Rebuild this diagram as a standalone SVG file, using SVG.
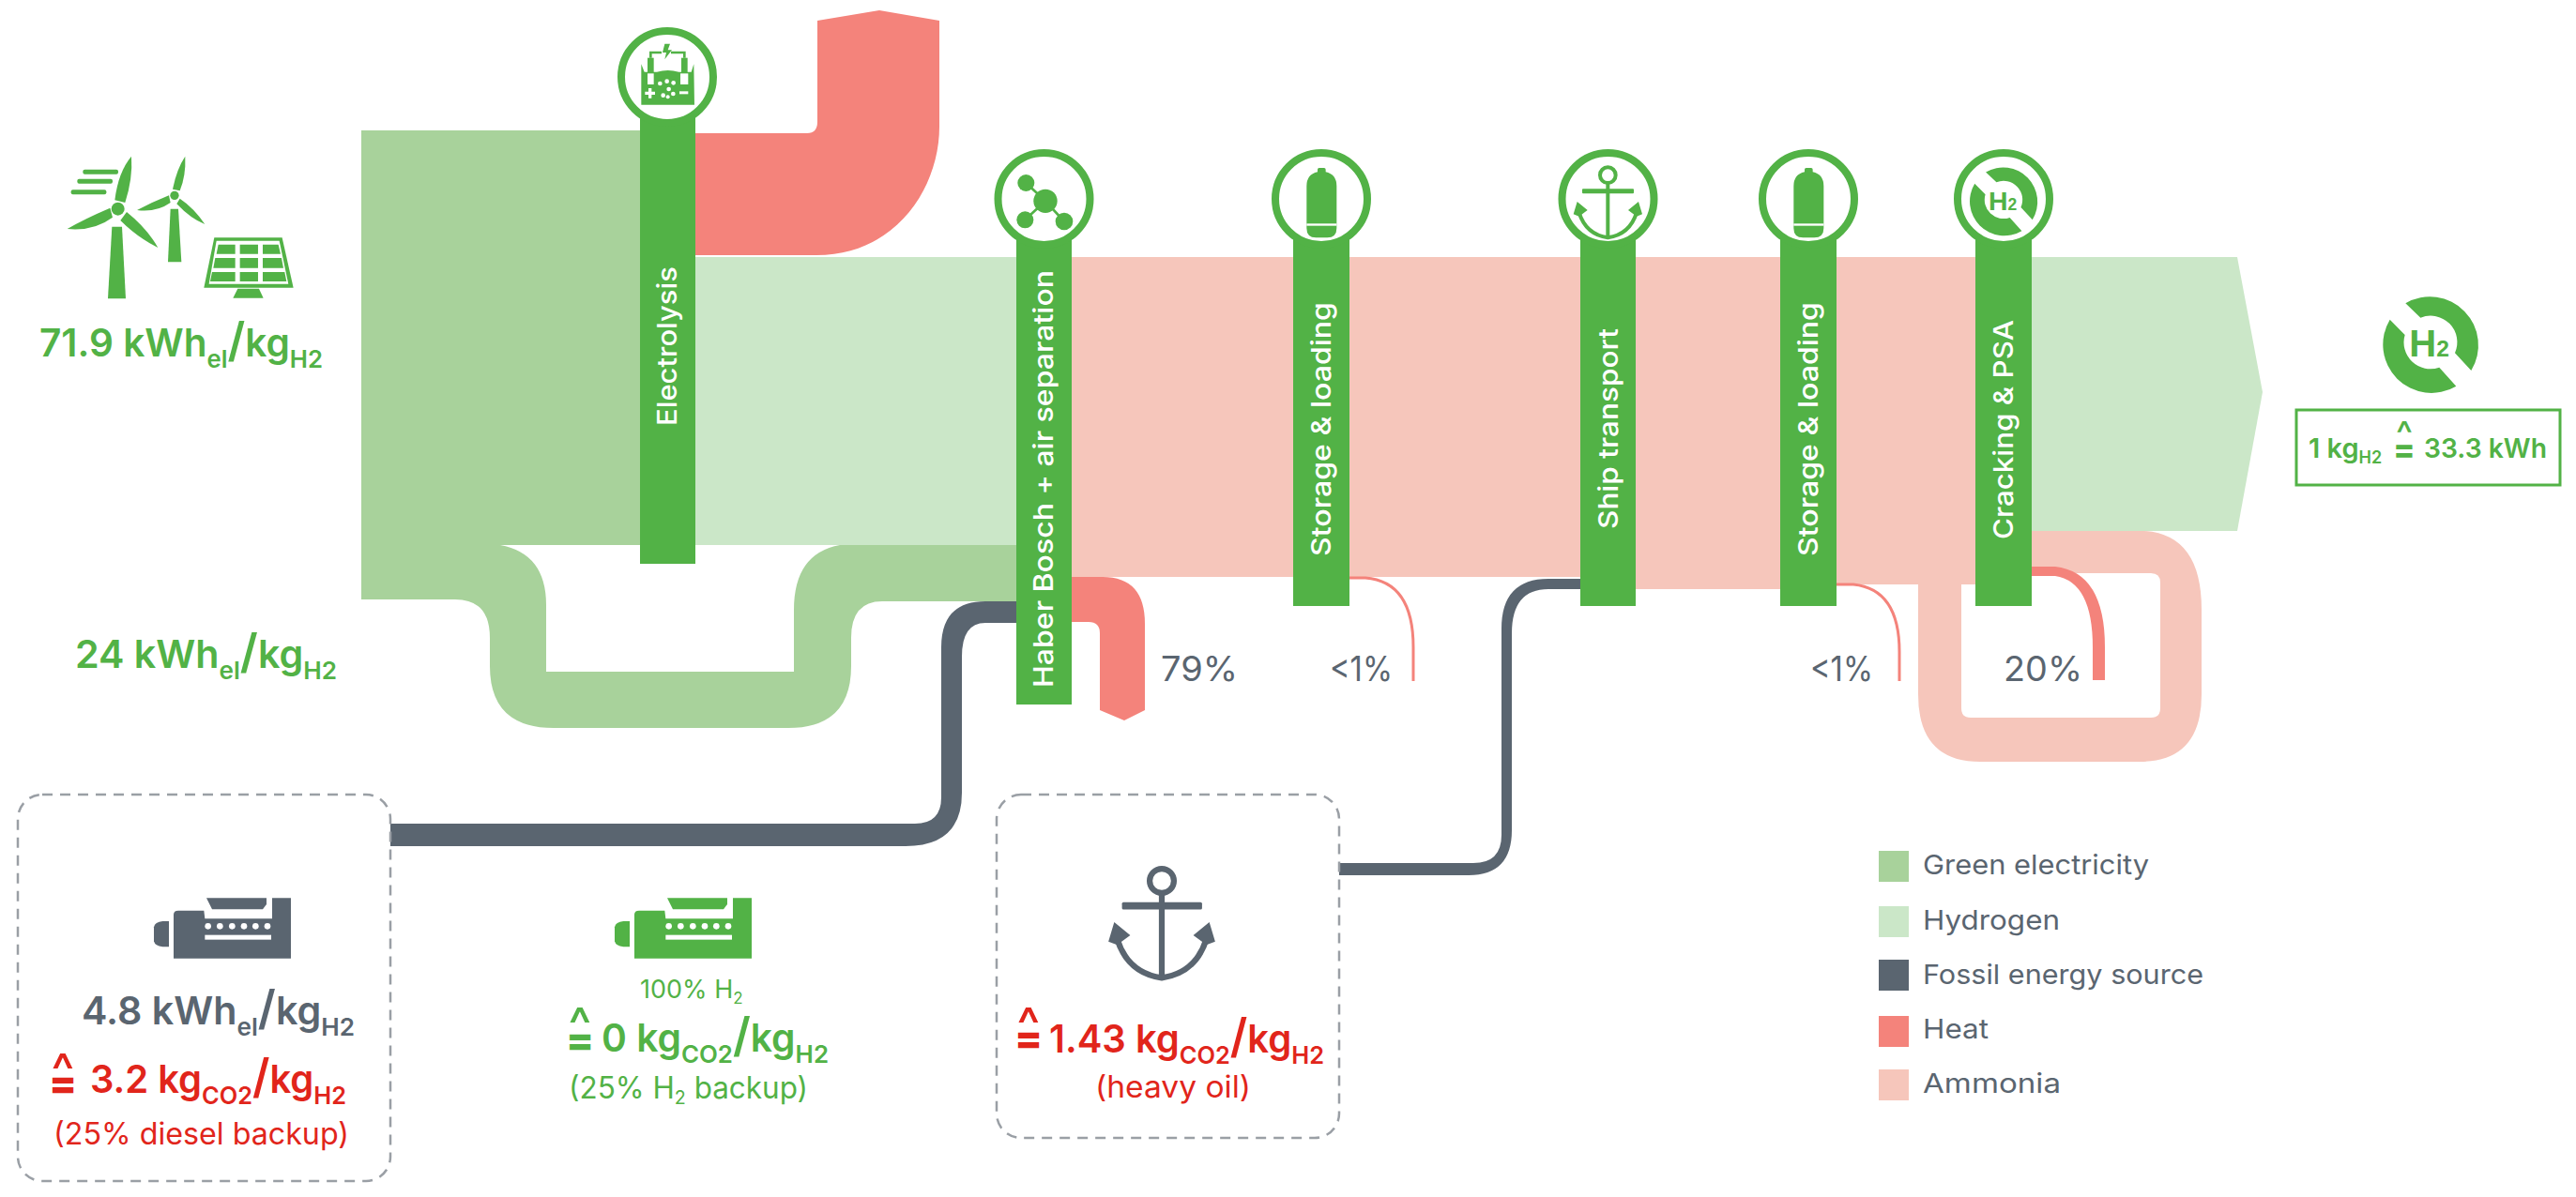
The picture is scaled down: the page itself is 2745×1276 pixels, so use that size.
<svg xmlns="http://www.w3.org/2000/svg" xmlns:xlink="http://www.w3.org/1999/xlink" width="2745" height="1276" viewBox="0 0 2745 1276">
<style>
text{font-family:"Inter","Noto Sans","Liberation Sans",sans-serif}
.bar{fill:#52b246}
.ring{fill:#fff;stroke:#52b246;stroke-width:8}
.ic{fill:#52b246}
.lab{fill:#fff;font-size:29px;font-weight:500}
.big{font-size:41px;font-weight:600}
.sub{font-size:26px}
.g{fill:#52b246}.d{fill:#5a6570}.r{fill:#e1251b}
.pct{font-size:37px;fill:#5a6570}
.leg{font-size:29px;fill:#5a6570}
.sm{font-size:32px}
.eq{font-weight:800;font-size:44px;text-anchor:middle}
.car{font-size:52px;font-weight:500}
.dash{fill:none;stroke:#9a9fa5;stroke-width:2.5;stroke-dasharray:11 8}
.thin{fill:none;stroke:#f4837b;stroke-width:3}
</style>
<defs>
<g id="molecule"><path d="M160,135L222,193M157,253L222,193M282,258L222,193" stroke="#52b246" stroke-width="8"/><circle cx="222" cy="193" r="38"/><circle cx="160" cy="135" r="27"/><circle cx="157" cy="253" r="27"/><circle cx="282" cy="258" r="28"/></g>
<g id="bottle"><path d="M192,100V92Q192,87 197,87H213Q218,87 218,92V100Q253,108 253,145V280Q253,310 223,310H187Q157,310 157,280V145Q157,108 192,100Z"/><rect x="157" y="265" width="96" height="7" fill="#fff"/></g>
<g id="anchor"><circle cx="220" cy="110" r="25" fill="none" stroke="currentColor" stroke-width="12"/><rect x="138" y="154" width="165" height="15" rx="3" fill="currentColor"/><rect x="214" y="130" width="12" height="182" fill="currentColor"/><path d="M128,230Q150,300 220,310Q290,300 312,230" fill="none" stroke="currentColor" stroke-width="12"/><path d="M122,195L110,235L128,242L155,222ZM318,195L330,235L312,242L285,222Z" fill="currentColor"/></g>
<g id="h2sym"><path d="M160,70A155,155 0 0 1 370,285L318,229A85,85 0 0 0 208,116Z"/><path d="M110,122A155,155 0 0 0 322,335L268,275A85,85 0 0 1 158,171Z"/><text x="172" y="240" font-size="120" font-weight="700" style="font-family:'Liberation Sans',sans-serif">H<tspan font-size="74">2</tspan></text></g>
<g id="engine"><path d="M135,105Q135,92 150,92H232L235,118H450V52H510V245H135Z"/><path d="M240,52H432V72L420,88H258Z"/><path d="M72,145Q75,128 100,126H120V208H100Q75,205 72,190Z"/><g fill="#fff"><circle cx="245" cy="142" r="10"/><circle cx="283" cy="142" r="10"/><circle cx="322" cy="142" r="10"/><circle cx="360" cy="142" r="10"/><circle cx="397" cy="142" r="10"/><circle cx="435" cy="142" r="10"/><rect x="235" y="170" width="212" height="15"/></g></g>
</defs>

<g id="connectors">
<path id="flow-electricity" fill="#a8d29b" d="M385,139H690V581H385Z"/>
<path id="flow-electricity-loop" fill="#a8d29b" d="M385,581H533Q582,590 582,645V716H846V650Q846,590 895,581H1090V641H940Q907,641 907,680V710Q907,776 840,776H590Q522,776 522,710V680Q522,639 485,639H385Z"/>
<path id="flow-hydrogen-1" fill="#cbe7c8" d="M741,274H1090V581H741Z"/>
<path id="flow-hydrogen-2" fill="#cbe7c8" d="M2160,274H2384L2411,418L2384,566H2160Z"/>
<path id="flow-ammonia" fill="#f6c6bb" d="M1083,274H2120V623H1957V628H1700V615H1083Z"/>
<path id="flow-ammonia-loop" fill="#f6c6bb" d="M2120,566H2285Q2346,570 2346,650V740Q2346,812 2280,812H2110Q2044,812 2044,740V620H2110V614H2090V755Q2090,765 2100,765H2292Q2302,765 2302,755V621Q2302,611 2292,611H2120Z"/>
<path id="flow-heat-1" fill="#f4837b" d="M741,142H860Q871,142 871,130V22L937,11L1001,22V135C1001,200 955,272 870,272H741Z"/>
<path id="flow-heat-2" fill="#f4837b" d="M1142,615H1175Q1220,615 1220,665V757L1198,768L1172,757V675Q1172,663 1160,663H1142Z"/>
<path id="flow-heat-3" class="thin" d="M1438,616H1455Q1506,620 1506,690V726"/>
<path id="flow-heat-4" class="thin" d="M1957,623H1975Q2024,628 2024,695V726"/>
<path id="flow-heat-5" fill="#f4837b" d="M2165,604H2190Q2243,610 2243,690V725H2230V690Q2230,620 2190,614H2165Z"/>
<path id="flow-fossil-1" fill="#5a6570" d="M416,878H975Q1003,878 1003,850V690Q1003,641 1050,641H1090V664H1050Q1025,664 1025,700V845Q1025,902 965,902H416Z"/>
<path id="flow-fossil-2" fill="#5a6570" d="M1427,920H1570Q1600,920 1600,890V670Q1600,617 1650,617H1690V628H1650Q1611,628 1611,675V885Q1611,933 1565,933H1427Z"/>
</g>

<g id="node-source">
<g class="ic" transform="translate(40,140) scale(.3333)">
<rect x="145" y="122" width="113" height="15" rx="6"/><rect x="127" y="152" width="113" height="15" rx="6"/><rect x="107" y="187" width="113" height="15" rx="6"/>
<circle cx="257" cy="248" r="21"/>
<path d="M247,220Q258,130 300,80Q305,150 280,228Z"/><path d="M232,245Q150,280 95,312Q180,320 240,275Z"/><path d="M285,258Q350,310 385,372Q320,340 265,285Z"/><path d="M238,305H270L282,535H225Z"/>
<circle cx="438" cy="205" r="14"/>
<path d="M432,185Q445,120 472,80Q475,140 455,190Z"/><path d="M420,205Q370,225 318,252Q380,260 425,228Z"/><path d="M455,215Q500,245 535,297Q490,280 445,232Z"/><path d="M425,248H450L460,418H417Z"/>
<path d="M565,340H782L818,500H532Z"/><path d="M572,350H773L802,488H548Z" fill="#fff"/>
<path d="M578,362H632V392H572ZM647,362H705V392H647ZM720,362H770L777,392H720ZM568,405H632V437H562ZM647,405H705V437H647ZM720,405H780L786,437H720ZM558,450H632V480H552ZM647,450H705V480H647ZM720,450H790L796,480H720Z"/>
<path d="M640,503H708L722,533H625Z"/>
</g>
<text class="big g" x="42" y="380" textLength="302" lengthAdjust="spacingAndGlyphs">71.9 kWh<tspan class="sub" dy="12">el</tspan><tspan dy="-12" font-size="50">/</tspan>kg<tspan class="sub" dy="12">H2</tspan></text>
<text class="big g" x="80" y="712" textLength="279" lengthAdjust="spacingAndGlyphs">24 kWh<tspan class="sub" dy="12">el</tspan><tspan dy="-12" font-size="50">/</tspan>kg<tspan class="sub" dy="12">H2</tspan></text>
</g>

<g id="node-electrolysis">
<rect class="bar" x="682" y="110" width="59" height="491"/>
<circle class="ring" cx="711" cy="82" r="49"/>
<g class="ic" transform="translate(640,20) scale(.3333)">
<path d="M130,145L140,170H180Q215,160 250,170H290L298,145L300,275H130Z"/>
<rect x="150" y="175" width="20" height="35" fill="#fff"/><rect x="255" y="175" width="25" height="35" fill="#fff"/>
<rect x="150" y="125" width="20" height="48"/><rect x="258" y="125" width="20" height="48"/>
<path d="M160,125V108H195M225,108H268V125" fill="none" stroke="#52b246" stroke-width="8"/>
<path d="M205,80H222L215,100H228L205,130L210,108H198Z"/>
<g fill="#fff"><circle cx="190" cy="207" r="7"/><circle cx="212" cy="200" r="7"/><circle cx="233" cy="205" r="7"/><circle cx="218" cy="225" r="7"/><circle cx="200" cy="245" r="7"/><circle cx="232" cy="240" r="7"/><circle cx="215" cy="250" r="6"/><path d="M142,233H153V222H163V233H174V243H163V254H153V243H142Z"/><rect x="252" y="232" width="28" height="9"/></g>
</g>
<text class="lab" transform="translate(721,454) rotate(-90)" textLength="170" lengthAdjust="spacingAndGlyphs">Electrolysis</text>
</g>

<g id="node-haber">
<rect class="bar" x="1083" y="240" width="59" height="511"/>
<circle class="ring" cx="1112.5" cy="212" r="49"/>
<use href="#molecule" class="ic" transform="translate(1040,150) scale(.3333)"/>
<text class="lab" transform="translate(1122,733) rotate(-90)" textLength="445" lengthAdjust="spacingAndGlyphs">Haber Bosch + air separation</text>
</g>

<g id="node-storage-1">
<rect class="bar" x="1378" y="240" width="60" height="406"/>
<circle class="ring" cx="1408" cy="212" r="49"/>
<use href="#bottle" class="ic" transform="translate(1340,150) scale(.3333)"/>
<text class="lab" transform="translate(1418,593) rotate(-90)" textLength="271" lengthAdjust="spacingAndGlyphs">Storage &amp; loading</text>
</g>

<g id="node-ship">
<rect class="bar" x="1684" y="240" width="59" height="406"/>
<circle class="ring" cx="1713.5" cy="212" r="49"/>
<use href="#anchor" style="color:#52b246" transform="translate(1640,150) scale(.3333)"/>
<text class="lab" transform="translate(1724,564) rotate(-90)" textLength="214" lengthAdjust="spacingAndGlyphs">Ship transport</text>
</g>

<g id="node-storage-2">
<rect class="bar" x="1897" y="240" width="60" height="406"/>
<circle class="ring" cx="1927" cy="212" r="49"/>
<use href="#bottle" class="ic" transform="translate(1859,150) scale(.3333)"/>
<text class="lab" transform="translate(1937,593) rotate(-90)" textLength="271" lengthAdjust="spacingAndGlyphs">Storage &amp; loading</text>
</g>

<g id="node-cracking">
<rect class="bar" x="2105" y="240" width="60" height="406"/>
<circle class="ring" cx="2135" cy="212" r="49"/>
<use href="#h2sym" class="ic" transform="translate(2135,213) scale(.2367) translate(-240,-195)"/>
<text class="lab" transform="translate(2145,575) rotate(-90)" textLength="234" lengthAdjust="spacingAndGlyphs">Cracking &amp; PSA</text>
</g>

<g id="percentages">
<text class="pct" x="1237" y="726" textLength="82" lengthAdjust="spacingAndGlyphs">79%</text>
<text class="pct" x="1417" y="726" textLength="67" lengthAdjust="spacingAndGlyphs">&lt;1%</text>
<text class="pct" x="1929" y="726" textLength="67" lengthAdjust="spacingAndGlyphs">&lt;1%</text>
<text class="pct" x="2135" y="726" textLength="84" lengthAdjust="spacingAndGlyphs">20%</text>
</g>

<g id="node-output">
<use href="#h2sym" class="ic" transform="translate(2510,300) scale(.3333)"/>
<rect x="2447" y="437" width="281" height="80" fill="#fff" stroke="#52b246" stroke-width="3"/>
<text class="g" x="2460" y="488" font-size="29" font-weight="600">1 kg<tspan font-size="18" dy="6">H2</tspan></text>
<text class="eq g"><tspan x="2562" y="491" style="font-size:34px">=</tspan><tspan class="car" x="2562" y="476" style="font-size:38px">^</tspan></text>
<text class="g" x="2583" y="488" font-size="29" font-weight="600" textLength="131" lengthAdjust="spacingAndGlyphs">33.3 kWh</text>
</g>

<g id="node-diesel">
<rect class="dash" x="19" y="847" width="397" height="412" rx="26"/>
<use href="#engine" class="d" transform="translate(140,940) scale(.3333)"/>
<text class="big d" x="87" y="1092" textLength="291" lengthAdjust="spacingAndGlyphs">4.8 kWh<tspan class="sub" dy="12">el</tspan><tspan dy="-12" font-size="50">/</tspan>kg<tspan class="sub" dy="12">H2</tspan></text>
<text class="eq r"><tspan x="67" y="1170">=</tspan><tspan class="car" x="67" y="1160">^</tspan></text>
<text class="big r" x="96" y="1165" textLength="273" lengthAdjust="spacingAndGlyphs">3.2 kg<tspan class="sub" dy="12">CO2</tspan><tspan dy="-12" font-size="50">/</tspan>kg<tspan class="sub" dy="12">H2</tspan></text>
<text class="sm r" x="57" y="1220" textLength="315" lengthAdjust="spacingAndGlyphs">(25% diesel backup)</text>
</g>

<g id="node-h2-backup">
<use href="#engine" class="g" transform="translate(631,940) scale(.3333)"/>
<text class="g" x="682" y="1064" font-size="27">100% H<tspan font-size="17" dy="6">2</tspan></text>
<text class="eq g"><tspan x="618" y="1124">=</tspan><tspan class="car" x="618" y="1111">^</tspan></text>
<text class="big g" x="641" y="1121" textLength="242" lengthAdjust="spacingAndGlyphs">0 kg<tspan class="sub" dy="12">CO2</tspan><tspan dy="-12" font-size="50">/</tspan>kg<tspan class="sub" dy="12">H2</tspan></text>
<text class="sm g" x="606" y="1171" textLength="255" lengthAdjust="spacingAndGlyphs">(25% H<tspan font-size="20" dy="6">2</tspan><tspan dy="-6"> backup)</tspan></text>
</g>

<g id="node-heavy-oil">
<rect class="dash" x="1062" y="847" width="365" height="366" rx="26"/>
<use href="#anchor" style="color:#5a6570" transform="translate(1238,939) scale(.517) translate(-220,-110)"/>
<text class="eq r"><tspan x="1096" y="1122">=</tspan><tspan class="car" x="1096" y="1111">^</tspan></text>
<text class="big r" x="1118" y="1122" textLength="293" lengthAdjust="spacingAndGlyphs">1.43 kg<tspan class="sub" dy="12">CO2</tspan><tspan dy="-12" font-size="50">/</tspan>kg<tspan class="sub" dy="12">H2</tspan></text>
<text class="sm r" x="1167" y="1170" textLength="166" lengthAdjust="spacingAndGlyphs">(heavy oil)</text>
</g>

<g id="legend">
<rect x="2002" y="907" width="32" height="33" fill="#a8d29b"/><text class="leg" x="2049" y="932" textLength="241" lengthAdjust="spacingAndGlyphs">Green electricity</text>
<rect x="2002" y="966" width="32" height="33" fill="#cbe7c8"/><text class="leg" x="2049" y="991" textLength="146" lengthAdjust="spacingAndGlyphs">Hydrogen</text>
<rect x="2002" y="1023" width="32" height="33" fill="#5a6570"/><text class="leg" x="2049" y="1049" textLength="299" lengthAdjust="spacingAndGlyphs">Fossil energy source</text>
<rect x="2002" y="1083" width="32" height="33" fill="#f4837b"/><text class="leg" x="2049" y="1107" textLength="70" lengthAdjust="spacingAndGlyphs">Heat</text>
<rect x="2002" y="1140" width="32" height="33" fill="#f6c6bb"/><text class="leg" x="2049" y="1165" textLength="147" lengthAdjust="spacingAndGlyphs">Ammonia</text>
</g>
</svg>
